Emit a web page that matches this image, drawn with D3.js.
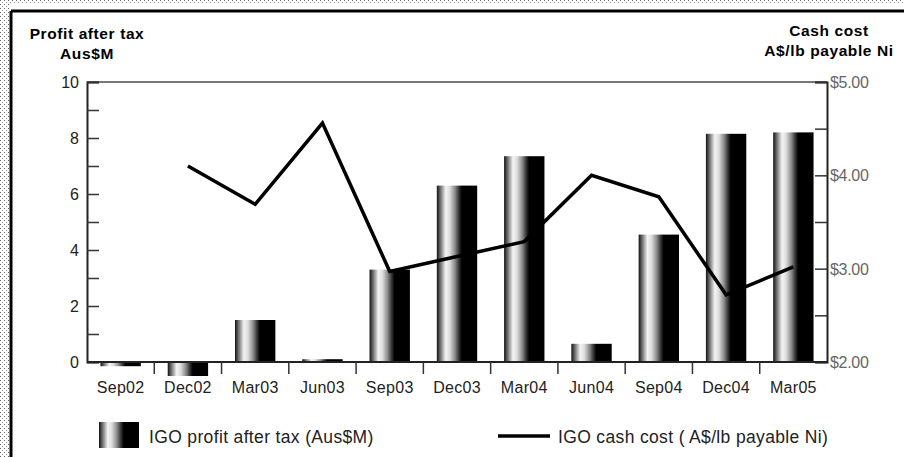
<!DOCTYPE html>
<html>
<head>
<meta charset="utf-8">
<script src="https://cdn.jsdelivr.net/npm/d3@7"></script>
<style>
  body { margin: 0; background: #fff; }
  text { font-family: "Liberation Sans", Arial, sans-serif; }
</style>
</head>
<body>
<script>
// chart data
var quarters = ["Sep02", "Dec02", "Mar03", "Jun03", "Sep03", "Dec03", "Mar04", "Jun04", "Sep04", "Dec04", "Mar05"];
var profit = [-0.15, -0.5, 1.5, 0.1, 3.3, 6.3, 7.35, 0.65, 4.55, 8.15, 8.2];
var cashCost = [null, 4.1, 3.69, 4.56, 2.97, 3.13, 3.29, 4.0, 3.77, 2.72, 3.02];
var leftTicks = [0, 2, 4, 6, 8, 10];
var rightTicks = [2, 3, 4, 5];

var svgWidth = 904;
var svgHeight = 457;
var plot = { left: 87, right: 827, top: 82, bottom: 362 };

var svg = d3.select("body")
  .append("svg")
  .attr("width", svgWidth)
  .attr("height", svgHeight);

var defs = svg.append("defs");

// dotted frame pattern
var pat = defs.append("pattern")
  .attr("id", "dots")
  .attr("width", 4).attr("height", 4)
  .attr("patternUnits", "userSpaceOnUse");
pat.append("rect").attr("width", 4).attr("height", 4).attr("fill", "#fff");
pat.append("rect").attr("x", 0).attr("y", 0).attr("width", 1).attr("height", 1).attr("fill", "#666");
pat.append("rect").attr("x", 2).attr("y", 2).attr("width", 1).attr("height", 1).attr("fill", "#999");

// cylinder shading for bars
var grad = defs.append("linearGradient")
  .attr("id", "cyl")
  .attr("x1", "0%").attr("x2", "100%").attr("y1", "0%").attr("y2", "0%");
[[0, "#111"], [0.08, "#666"], [0.22, "#f4f4f4"], [0.32, "#ddd"], [0.45, "#8a8a8a"], [0.55, "#333"], [0.62, "#000"], [1, "#000"]]
  .forEach(function (s) {
    grad.append("stop").attr("offset", s[0]).attr("stop-color", s[1]);
  });

// frame
svg.append("rect").attr("x", 0).attr("y", 0).attr("width", 10).attr("height", svgHeight).attr("fill", "url(#dots)");
svg.append("rect").attr("x", 0).attr("y", 0).attr("width", svgWidth).attr("height", 3).attr("fill", "url(#dots)");
svg.append("line").attr("x1", 11).attr("x2", svgWidth).attr("y1", 11).attr("y2", 11)
  .attr("stroke", "#000").attr("stroke-width", 3);
svg.append("line").attr("x1", 11).attr("x2", 11).attr("y1", 11).attr("y2", svgHeight)
  .attr("stroke", "#000").attr("stroke-width", 3);

// scales
var xScale = d3.scaleBand().domain(quarters).range([plot.left, plot.right]).paddingInner(0).paddingOuter(0);
var yLeft = d3.scaleLinear().domain([0, 10]).range([plot.bottom, plot.top]);
var yRight = d3.scaleLinear().domain([2, 5]).range([plot.bottom, plot.top]);

// top border of plot
svg.append("line")
  .attr("x1", plot.left).attr("x2", plot.right)
  .attr("y1", plot.top).attr("y2", plot.top)
  .attr("stroke", "#777").attr("stroke-width", 2);

// bars
var barW = xScale.bandwidth() * 0.6;
svg.selectAll(".bar")
  .data(profit)
  .enter()
  .append("rect")
  .attr("class", "bar")
  .attr("x", function (d, i) { return xScale(quarters[i]) + (xScale.bandwidth() - barW) / 2; })
  .attr("y", function (d) { return yLeft(Math.max(0, d)); })
  .attr("width", barW)
  .attr("height", function (d) { return Math.abs(yLeft(d) - yLeft(0)); })
  .attr("fill", "url(#cyl)");

// left axis
var leftAxis = d3.axisRight(yLeft).tickValues(d3.range(0, 11, 1)).tickSize(12).tickFormat("");
var gl = svg.append("g").attr("transform", "translate(" + plot.left + ",0)").call(leftAxis);
gl.select(".domain").attr("stroke", "#222").attr("stroke-width", 2);
gl.selectAll(".tick line").attr("stroke", "#333").attr("stroke-width", 1.5);
svg.selectAll(".ltl")
  .data(leftTicks)
  .enter()
  .append("text")
  .attr("class", "ltl")
  .attr("x", plot.left - 8)
  .attr("y", function (d) { return yLeft(d) + 6; })
  .attr("text-anchor", "end")
  .attr("font-size", 16)
  .attr("fill", "#222")
  .text(function (d) { return d; });

// right axis
var rightAxis = d3.axisLeft(yRight).tickValues(d3.range(2, 5.01, 0.5)).tickSize(12).tickFormat("");
var gr = svg.append("g").attr("transform", "translate(" + plot.right + ",0)").call(rightAxis);
gr.select(".domain").attr("stroke", "#222").attr("stroke-width", 2);
gr.selectAll(".tick line").attr("stroke", "#333").attr("stroke-width", 1.5);
svg.selectAll(".rtl")
  .data(rightTicks)
  .enter()
  .append("text")
  .attr("class", "rtl")
  .attr("x", plot.right + 3)
  .attr("y", function (d) { return yRight(d) + 6; })
  .attr("font-size", 16)
  .attr("letter-spacing", -0.3)
  .attr("fill", "#666")
  .text(function (d) { return "$" + d.toFixed(2); });

// x axis at zero
svg.append("line")
  .attr("x1", plot.left).attr("x2", plot.right)
  .attr("y1", yLeft(0)).attr("y2", yLeft(0))
  .attr("stroke", "#222").attr("stroke-width", 2);
svg.selectAll(".xtick")
  .data(quarters.slice(1))
  .enter()
  .append("line")
  .attr("class", "xtick")
  .attr("x1", function (d) { return xScale(d); })
  .attr("x2", function (d) { return xScale(d); })
  .attr("y1", yLeft(0)).attr("y2", yLeft(0) + 12)
  .attr("stroke", "#333").attr("stroke-width", 1.5);
svg.selectAll(".xlab")
  .data(quarters)
  .enter()
  .append("text")
  .attr("class", "xlab")
  .attr("x", function (d) { return xScale(d) + xScale.bandwidth() / 2; })
  .attr("y", yLeft(0) + 31)
  .attr("text-anchor", "middle")
  .attr("font-size", 16)
  .attr("letter-spacing", 0.3)
  .attr("fill", "#222")
  .text(function (d) { return d; });

// cash cost line
var line = d3.line()
  .defined(function (d) { return d !== null; })
  .x(function (d, i) { return xScale(quarters[i]) + xScale.bandwidth() / 2; })
  .y(function (d) { return yRight(d); });
svg.append("path")
  .datum(cashCost)
  .attr("d", line)
  .attr("fill", "none")
  .attr("stroke", "#000")
  .attr("stroke-width", 3.5)
  .attr("stroke-linejoin", "miter");

// axis titles
function title(x, y, s) {
  svg.append("text").attr("x", x).attr("y", y).attr("text-anchor", "middle")
    .attr("font-size", 15.5).attr("font-weight", "bold").attr("letter-spacing", 0.6).text(s);
}
title(plot.left, 39, "Profit after tax");
title(plot.left, 59, "Aus$M");
title(plot.right + 2, 36, "Cash cost");
title(plot.right + 2, 56, "A$/lb payable Ni");

// legend
svg.append("rect").attr("x", 99).attr("y", 422).attr("width", 40).attr("height", 26).attr("fill", "url(#cyl)");
svg.append("text").attr("x", 149).attr("y", 443).attr("font-size", 17.5).attr("letter-spacing", 0.35).attr("fill", "#222")
  .text("IGO profit after tax (Aus$M)");
svg.append("line").attr("x1", 498).attr("x2", 550).attr("y1", 436).attr("y2", 436)
  .attr("stroke", "#000").attr("stroke-width", 3.5);
svg.append("text").attr("x", 558).attr("y", 443).attr("font-size", 17.5).attr("letter-spacing", 0.35).attr("fill", "#222")
  .text("IGO cash cost ( A$/lb payable Ni)");
</script>
</body>
</html>
